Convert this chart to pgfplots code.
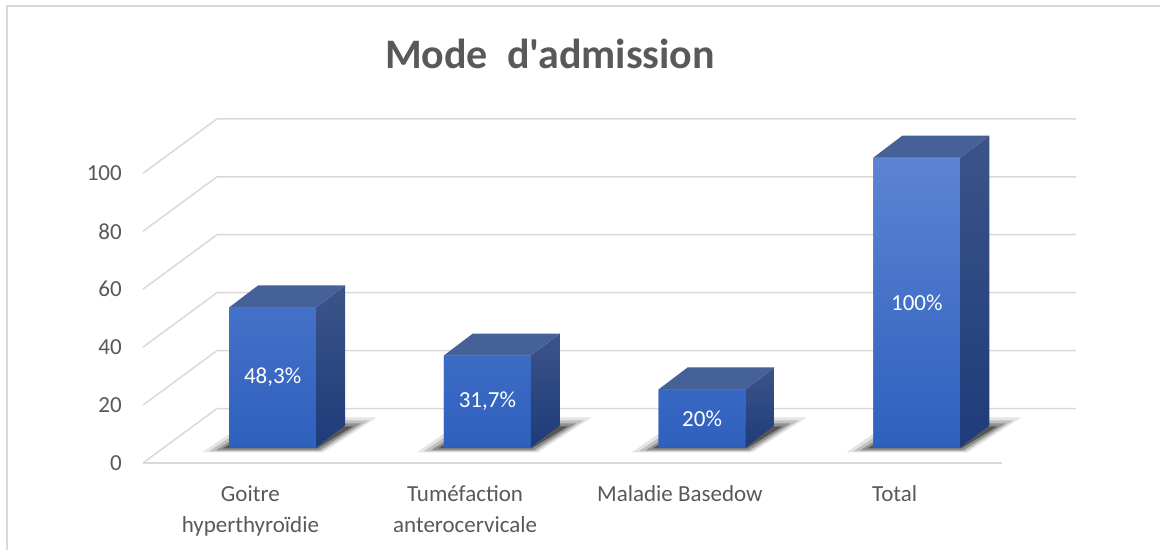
\documentclass[border=0pt]{standalone}
\usepackage{pgfplots}
\pgfplotsset{compat=1.18}
\usepackage{pgfplotstable}
\usepackage{fontspec}
\setmainfont{Carlito}
\newfontfamily\titlefont{Carlito}[Ligatures=TeXOff]
\definecolor{gridgray}{RGB}{217,217,217}
\definecolor{txtgray}{RGB}{89,89,89}
\definecolor{frontTop}{RGB}{92,132,210}
\definecolor{frontBot}{RGB}{46,96,190}
\definecolor{topFace}{RGB}{70,96,152}
\definecolor{sideTop}{RGB}{60,84,136}
\definecolor{sideBot}{RGB}{30,60,122}

\pgfplotstableread{
x v
0.5 48.3
1.5 31.7
2.5 20
3.5 100
}\bars

\pgfdeclareplotmark{cubeface}{%
  \pgfmathsetmacro\hh{\barv*2.897}%
  \shade[top color=sideTop, bottom color=sideBot] (0pt,0pt) -- (29pt,22pt) -- (29pt,{22pt-\hh pt}) -- (0pt,{-\hh pt}) -- cycle;
  \fill[topFace] (0pt,0pt) -- (29pt,22pt) -- (-58pt,22pt) -- (-87pt,0pt) -- cycle;
}

\begin{document}
\begin{tikzpicture}
\useasboundingbox (0,0) rectangle (1160pt,550pt);
\draw[gridgray, line width=2pt] (7pt,0pt) -- (7pt,544pt) -- (1160pt,544pt);
\begin{axis}[
  at={(143pt,87pt)}, anchor=south west,
  x=214.75pt, y=2.897pt,
  xmin=0, xmax=4.345, ymin=-5.4, ymax=114,
  clip=false,
  axis line style={draw=none},
  major tick length=0pt,
  ytick={-5.4,14.6,34.6,54.6,74.6,94.6},
  yticklabels={0,20,40,60,80,100},
  xtick={0.5,1.5,2.5,3.5},
  xticklabels={{Goitre\\hyperthyroïdie},{Tuméfaction\\anterocervicale},{Maladie Basedow},{Total}},
  ticklabel style={font=\fontsize{23}{31}\selectfont, text=txtgray},
  yticklabel style={inner sep=0pt, xshift=-21pt},
  xticklabel style={align=center, inner sep=0pt, yshift=-22pt},
  title={Mode~ d'admission},
  title style={font=\titlefont\bfseries\fontsize{42}{50}\selectfont, text=txtgray, at={(0.4362,1.124)}, anchor=base},
  /pgf/number format/assume math mode=true,
]
% walls / grid
\pgfplotsinvokeforeach{0,20,40,60,80,100}{
  \addplot[gridgray, line width=1.5pt, forget plot] table[row sep=\\, x=x, y expr=\thisrow{y}+#1] {x y\\ 0 -5.4\\ 0.3446 13.4\\ 4.345 13.4\\};
}
\addplot[gridgray, line width=1.5pt, forget plot] coordinates {(0,-5.4) (4,-5.4)};
% soft shadows on the floor (relative to each bar's front-left base corner, in pt)
\pgfplotsinvokeforeach{0.401,1.401,2.401,3.401}{
  \addplot[fill=black, fill opacity=0.10, draw=none, forget plot] table[row sep=\\, x expr=#1+\thisrow{a}/214.75, y expr=\thisrow{b}/2.897] {a b\\ -27 -5\\ 94 -5\\ 148 30\\ 24 30\\} -- cycle;
  \addplot[fill=black, fill opacity=0.16, draw=none, forget plot] table[row sep=\\, x expr=#1+\thisrow{a}/214.75, y expr=\thisrow{b}/2.897] {a b\\ -20 -4\\ 92 -4\\ 140 27\\ 26 27\\} -- cycle;
  \addplot[fill=black, fill opacity=0.25, draw=none, forget plot] table[row sep=\\, x expr=#1+\thisrow{a}/214.75, y expr=\thisrow{b}/2.897] {a b\\ -13 -3\\ 90 -3\\ 132 24\\ 28 24\\} -- cycle;
  \addplot[fill=black, fill opacity=0.40, draw=none, forget plot] table[row sep=\\, x expr=#1+\thisrow{a}/214.75, y expr=\thisrow{b}/2.897] {a b\\ -6 -1\\ 88 -1\\ 124 21\\ 30 21\\} -- cycle;
}
% side and top faces
\addplot[scatter, only marks, mark=cubeface, point meta=\thisrow{v},
  scatter/use mapped color={draw=sideTop, fill=sideTop, draw opacity=0},
  visualization depends on={\thisrow{v} \as \barv}, forget plot]
  table[x expr=\thisrow{x}+0.306, y=v] {\bars};
% front faces
\addplot[ybar, bar width=0.405, bar shift=0.1035, draw=none, fill=frontBot,
  top color=frontTop, bottom color=frontBot, forget plot] table[x=x, y=v] {\bars};
% labels
\addplot[only marks, mark=none, forget plot, point meta=\thisrow{v},
  nodes near coords={\pgfmathprintnumber[use comma,assume math mode=true]{\pgfplotspointmeta}\%},
  nodes near coords align=center,
  every node near coord/.append style={font=\fontsize{23}{28}\selectfont, text=white}]
  table[x expr=\thisrow{x}+0.1035, y expr=\thisrow{v}/2] {\bars};
\end{axis}
\end{tikzpicture}
\end{document}
